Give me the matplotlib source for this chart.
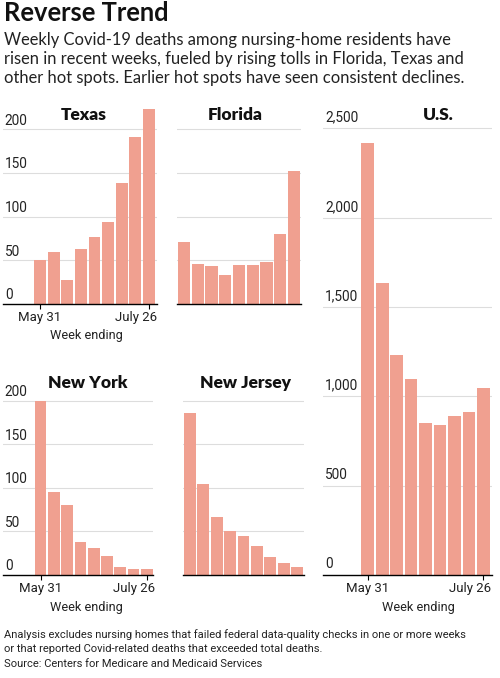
import matplotlib.pyplot as plt
from matplotlib.transforms import ScaledTranslation

# weekly Covid-19 deaths in nursing homes, 9 weeks May 31 .. July 26
weeks = ['May 31', '', '', '', '', '', '', '', 'July 26']
texas = [50, 59, 27, 63, 77, 94, 138, 191, 223]
florida = [71, 45, 43, 33, 44, 44, 48, 80, 152]
new_york = [200, 95, 80, 38, 31, 22, 9, 7, 7]
new_jersey = [186, 104, 67, 51, 45, 33, 21, 14, 9]
us = [2416, 1636, 1231, 1099, 851, 841, 890, 910, 1045]

state_ticks = [0, 50, 100, 150, 200]
us_ticks = [0, 500, 1000, 1500, 2000, 2500]

W, H = 500, 678
barcolor = '#f0a090'
nfam = ['Roboto', 'DejaVu Sans']
plt.rcParams['font.family'] = ['Lato', 'DejaVu Sans']

fig = plt.figure(figsize=(W / 100, H / 100), dpi=100)


def px(x, y):
    return x / W, 1 - y / H


def panel(left, right, base, top, vals, ymax, xlo, xhi, ticks, labels, show_x):
    ax = fig.add_axes([left / W, 1 - base / H, (right - left) / W, (base - top) / H])
    x = list(range(len(vals)))
    ax.bar(x, vals, width=0.88, color=barcolor, zorder=2)
    ax.set_xlim(xlo, xhi)
    ax.set_ylim(0, ymax)
    for s in ['top', 'right', 'left']:
        ax.spines[s].set_visible(False)
    ax.spines['bottom'].set_color('black')
    ax.spines['bottom'].set_linewidth(1.0)
    ax.spines['bottom'].set_zorder(3)
    ax.set_yticks([])
    for t in ticks[1:]:
        ax.axhline(t, color='#dddddd', lw=0.8, zorder=1)
    if labels is not None:
        for t, lab in zip(ticks, labels):
            ax.text(0.012, t + ymax * 0.008, lab, transform=ax.get_yaxis_transform(),
                    ha='left', va='bottom', fontsize=9.8, family=nfam, color='#222222')
    if show_x:
        ax.set_xticks([0, len(vals) - 1])
        ax.set_xticklabels([weeks[0], weeks[-1]], family=nfam, fontsize=9.5,
                           color='#222222')
        ax.tick_params(axis='x', length=3.5, width=0.8, pad=1.5)
        last = ax.get_xticklabels()[-1]
        last.set_ha('right')
        last.set_transform(last.get_transform()
                           + ScaledTranslation(8 / 100, 0, fig.dpi_scale_trans))
    else:
        ax.set_xticks([])
    return ax


st_scale = 200 / 174.3  # units per pixel for state panels
panel(3, 157, 303.7, 303.7 - 232 / st_scale, texas, 232, -2.72, 8.59,
      state_ticks, [str(t) for t in state_ticks], True)
panel(177, 301, 303.7, 303.7 - 232 / st_scale, florida, 232, -0.51, 8.51,
      state_ticks, None, False)
panel(3, 153, 575, 575 - 232 / st_scale, new_york, 232, -2.83, 8.47,
      state_ticks, [str(t) for t in state_ticks], True)
panel(183, 304, 575, 575 - 232 / st_scale, new_jersey, 232, -0.52, 8.52,
      state_ticks, None, False)
us_scale = 500 / 89.33
panel(323, 492, 575, 575 - 2620 / us_scale, us, 2620, -3.1, 8.6,
      us_ticks, [f'{t:,}' for t in us_ticks], True)

# panel titles
for name, xc, yc in [('Texas', 84, 115), ('Florida', 235, 115), ('U.S.', 438, 115),
                     ('New York', 88, 383), ('New Jersey', 246, 383)]:
    fig.text(*px(xc, yc), name, ha='center', va='center', fontsize=12.5,
             fontweight='heavy', color='#111111')

for xc, yc in [(86, 336), (86, 607), (418, 607)]:
    fig.text(*px(xc, yc), 'Week ending', ha='center', va='center', fontsize=9.2,
             family=nfam, color='#222222')

fig.text(*px(4, 13), 'Reverse Trend', ha='left', va='center', fontsize=18.4,
         fontweight='bold', color='#111111')
sub = ['Weekly Covid-19 deaths among nursing-home residents have',
       'risen in recent weeks, fueled by rising tolls in Florida, Texas and',
       'other hot spots. Earlier hot spots have seen consistent declines.']
for i, line in enumerate(sub):
    fig.text(*px(4, 40 + 19 * i), line, ha='left', va='center', fontsize=11.9,
             color='#222222')

foot = ['Analysis excludes nursing homes that failed federal data-quality checks in one or more weeks',
        'or that reported Covid-related deaths that exceeded total deaths.']
for i, line in enumerate(foot):
    fig.text(*px(4, 635 + 13.5 * i), line, ha='left', va='center', fontsize=8,
             family=nfam, color='#222222')
fig.text(*px(4, 664), 'Source: Centers for Medicare and Medicaid Services', ha='left',
         va='center', fontsize=8, family=nfam, color='#222222')

fig.savefig('out.png', dpi=100)
